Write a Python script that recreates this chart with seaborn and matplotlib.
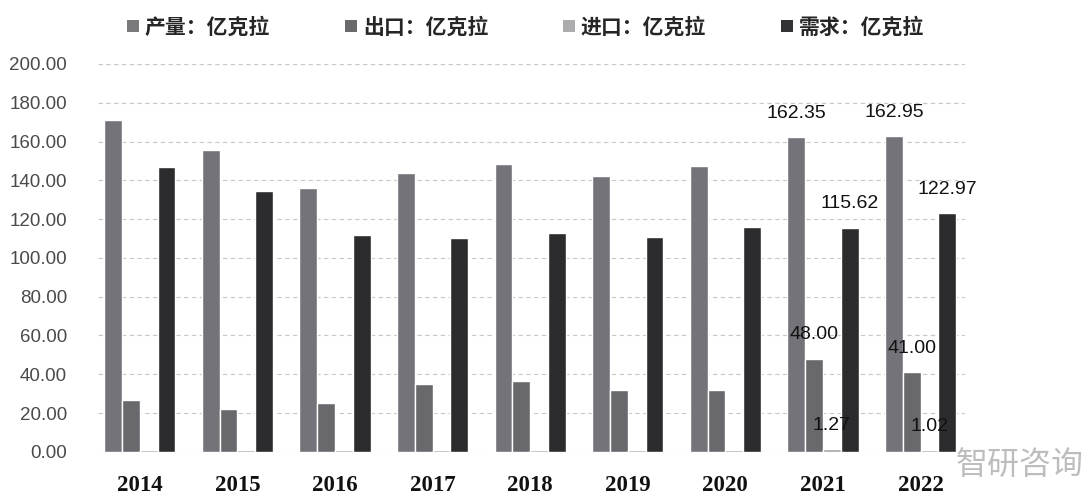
import matplotlib
matplotlib.use("Agg")
import matplotlib.pyplot as plt
from matplotlib.patches import Patch
from matplotlib.ticker import FuncFormatter
import seaborn as sns
import pandas as pd

years = ["2014", "2015", "2016", "2017", "2018", "2019", "2020", "2021", "2022"]
series = ["产量：亿克拉", "出口：亿克拉", "进口：亿克拉", "需求：亿克拉"]
production = [171.0, 155.5, 136.0, 144.0, 148.5, 142.0, 147.5, 162.35, 162.95]
export = [26.5, 22.0, 25.0, 35.0, 36.5, 32.0, 32.0, 48.00, 41.00]
imports = [1.0, 1.0, 1.0, 1.0, 1.0, 1.0, 1.0, 1.27, 1.02]
demand = [147.0, 134.5, 112.0, 110.5, 113.0, 111.0, 116.0, 115.62, 122.97]
labeled_years = ["2021", "2022"]
y_ticks = [0, 20, 40, 60, 80, 100, 120, 140, 160, 180, 200]

colors = ["#747379", "#69686c", "#a3a3a5", "#2c2c2e"]
legend_colors = ["#7a7a7c", "#6a6a6c", "#acacae", "#333335"]

rows = []
for s, vals in zip(series, [production, export, imports, demand]):
    for y, v in zip(years, vals):
        rows.append({"year": y, "series": s, "value": v})
df = pd.DataFrame(rows)

sns.set_theme(style="white")
plt.rcParams["font.family"] = ["Noto Sans CJK SC", "DejaVu Sans"]

fig = plt.figure(figsize=(10.86, 4.96), dpi=100)
ax = fig.add_axes([0.090, 0.089, 0.799, 0.782])

sns.barplot(data=df, x="year", y="value", hue="series", order=years,
            hue_order=series, palette=colors, width=0.73, gap=0,
            saturation=1, ax=ax, legend=False, errorbar=None)

ax.set_ylim(0, 200)
ax.set_xlim(-0.43, 8.46)
ax.set_yticks(y_ticks)
ax.yaxis.set_major_formatter(FuncFormatter(lambda v, p: f"{v:.2f}"))
ax.grid(axis="y", linestyle=(0, (4, 3)), color="#c8c8c8", linewidth=0.8)
ax.set_axisbelow(True)
for sp in ax.spines.values():
    sp.set_visible(False)
ax.set_xlabel("")
ax.set_ylabel("")
ax.tick_params(axis="y", labelsize=13.5, labelcolor="#4a4a4a", length=0, pad=22)
for lbl in ax.get_yticklabels():
    lbl.set_family(["Liberation Sans", "DejaVu Sans"])
ax.tick_params(axis="x", length=0, pad=17)
for lbl in ax.get_xticklabels():
    lbl.set_family(["Liberation Serif", "DejaVu Serif"])
    lbl.set_fontweight("bold")
    lbl.set_fontsize(16.5)
    lbl.set_color("#111111")

# data labels for last two years
for cont, s in zip(ax.containers, series):
    for bar, y in zip(cont, years):
        if y in labeled_years:
            h = bar.get_height()
            ax.annotate(f"{h:.2f}", (bar.get_x() + bar.get_width() / 2, h),
                        xytext=(0, 11), textcoords="offset points",
                        ha="center", va="bottom", fontsize=14,
                        family=["Liberation Sans", "DejaVu Sans"], color="#111111")

handles = [Patch(facecolor=c, edgecolor="none") for c in legend_colors]
fig.legend(handles, series, loc="upper center", bbox_to_anchor=(0.484, 1.005),
           ncol=4, frameon=False, handlelength=0.55, handleheight=0.55,
           handletextpad=0.3, columnspacing=3.6,
           prop={"family": ["Noto Sans CJK SC", "DejaVu Sans"], "size": 15, "weight": "bold"})

# watermark (kept clear of the year labels)
fig.text(0.998, 0.045, "智研咨询", fontsize=23, color="#bdbdbd", ha="right",
         family=["Noto Sans CJK SC", "DejaVu Sans"], zorder=0)

fig.savefig("out.png", dpi=100)
